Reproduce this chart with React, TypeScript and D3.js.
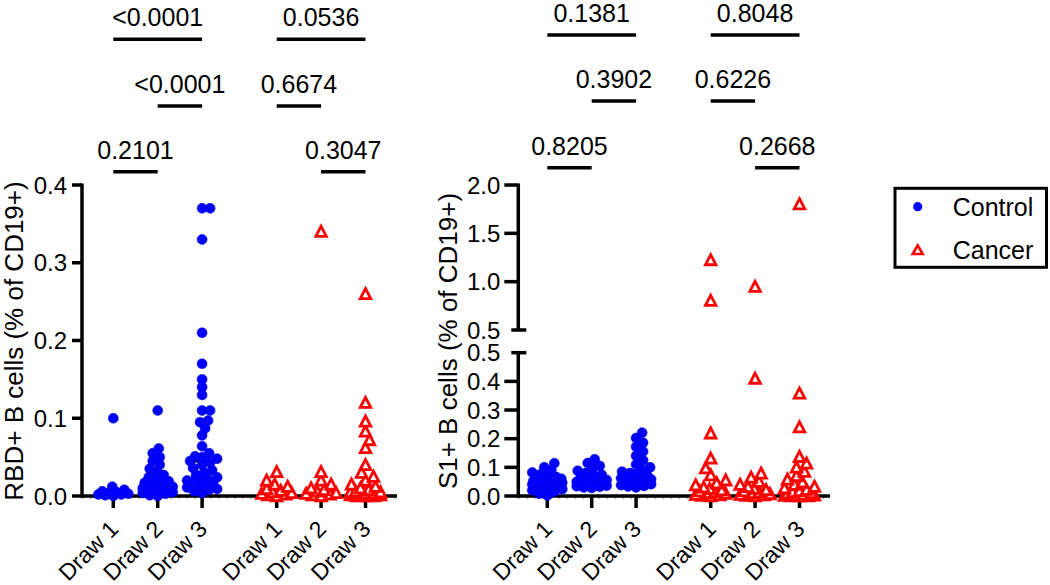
import React from "react";
import * as d3 from "d3";

// ---------- data ----------
const categories = ["Draw 1", "Draw 2", "Draw 3", "Draw 1", "Draw 2", "Draw 3"];
const groupOf = ["Control", "Control", "Control", "Cancer", "Cancer", "Cancer"];
const catPositions = [0, 1, 2, 3.68, 4.68, 5.68];

// RBD+ B cells (% of CD19+)
const rbdControlDraw1 = [0.1, 0.012, 0.008, 0.006, 0.005, 0.004, 0.003, 0.002, 0.002, 0.001, 0.0];
const rbdControlDraw2 = [0.11, 0.061, 0.055, 0.05, 0.045, 0.04, 0.035, 0.031, 0.027, 0.024, 0.021, 0.019, 0.017, 0.016, 0.014, 0.012, 0.011, 0.01, 0.009, 0.008, 0.007, 0.006, 0.005, 0.004, 0.003, 0.001, 0.0];
const rbdControlDraw3 = [0.37, 0.37, 0.33, 0.21, 0.17, 0.15, 0.14, 0.13, 0.11, 0.11, 0.097, 0.095, 0.087, 0.078, 0.064, 0.055, 0.051, 0.05, 0.048, 0.045, 0.043, 0.04, 0.036, 0.033, 0.03, 0.027, 0.024, 0.021, 0.02, 0.02, 0.019, 0.017, 0.015, 0.013, 0.011, 0.009, 0.008, 0.006, 0.004];
const rbdCancerDraw1 = [0.031, 0.02, 0.015, 0.012, 0.009, 0.007, 0.005, 0.004, 0.003, 0.002, 0.001, 0.0];
const rbdCancerDraw2 = [0.34, 0.031, 0.02, 0.015, 0.01, 0.008, 0.006, 0.004, 0.003, 0.002, 0.001, 0.0];
const rbdCancerDraw3 = [0.26, 0.12, 0.096, 0.083, 0.072, 0.062, 0.04, 0.03, 0.025, 0.02, 0.015, 0.012, 0.01, 0.008, 0.006, 0.005, 0.005, 0.004, 0.004, 0.003, 0.003, 0.002, 0.002, 0.001, 0.001, 0.001, 0.0, 0.0, 0.0];

// S1+ B cells (% of CD19+)
const s1ControlDraw1 = [0.114, 0.1, 0.09, 0.082, 0.075, 0.07, 0.066, 0.062, 0.06, 0.058, 0.056, 0.054, 0.052, 0.05, 0.049, 0.048, 0.046, 0.044, 0.042, 0.04, 0.038, 0.035, 0.032, 0.028, 0.024, 0.02, 0.015, 0.008, 0.002];
const s1ControlDraw2 = [0.128, 0.115, 0.105, 0.095, 0.088, 0.08, 0.074, 0.068, 0.063, 0.059, 0.056, 0.053, 0.05, 0.048, 0.046, 0.044, 0.042, 0.04, 0.038, 0.036, 0.034, 0.032, 0.03, 0.028];
const s1ControlDraw3 = [0.221, 0.202, 0.186, 0.172, 0.155, 0.14, 0.125, 0.11, 0.1, 0.091, 0.085, 0.08, 0.076, 0.072, 0.066, 0.064, 0.062, 0.06, 0.058, 0.056, 0.053, 0.05, 0.047, 0.044, 0.041, 0.038, 0.035, 0.033, 0.03];
const s1CancerDraw1 = [1.224, 0.803, 0.219, 0.131, 0.097, 0.073, 0.055, 0.045, 0.038, 0.03, 0.025, 0.02, 0.017, 0.014, 0.01, 0.008, 0.005, 0.003, 0.001, 0.0];
const s1CancerDraw2 = [0.948, 0.41, 0.079, 0.065, 0.05, 0.04, 0.032, 0.026, 0.021, 0.017, 0.013, 0.01, 0.007, 0.005, 0.003, 0.001, 0.0];
const s1CancerDraw3 = [1.803, 0.358, 0.24, 0.137, 0.114, 0.1, 0.085, 0.07, 0.058, 0.048, 0.04, 0.033, 0.027, 0.022, 0.018, 0.014, 0.011, 0.008, 0.006, 0.004, 0.002, 0.001, 0.0, 0.0, 0.0];

const rbdSeries = [rbdControlDraw1, rbdControlDraw2, rbdControlDraw3, rbdCancerDraw1, rbdCancerDraw2, rbdCancerDraw3];
const s1Series = [s1ControlDraw1, s1ControlDraw2, s1ControlDraw3, s1CancerDraw1, s1CancerDraw2, s1CancerDraw3];

const rbdTicks = [0, 0.1, 0.2, 0.3, 0.4];
const s1LowerTicks = [0, 0.1, 0.2, 0.3, 0.4, 0.5];
const s1UpperTicks = [0.5, 1.0, 1.5, 2.0];

const rbdComparisons = [
  { a: 0, b: 2, p: "<0.0001", row: 0 },
  { a: 3, b: 5, p: "0.0536", row: 0 },
  { a: 1, b: 2, p: "<0.0001", row: 1 },
  { a: 3, b: 4, p: "0.6674", row: 1 },
  { a: 0, b: 1, p: "0.2101", row: 2 },
  { a: 4, b: 5, p: "0.3047", row: 2 },
];
const s1Comparisons = [
  { a: 0, b: 2, p: "0.1381", row: 0 },
  { a: 3, b: 5, p: "0.8048", row: 0 },
  { a: 1, b: 2, p: "0.3902", row: 1 },
  { a: 3, b: 4, p: "0.6226", row: 1 },
  { a: 0, b: 1, p: "0.8205", row: 2 },
  { a: 4, b: 5, p: "0.2668", row: 2 },
];

const legendItems = ["Control", "Cancer"];

// ---------- style ----------
const FONT = "'Liberation Sans', Arial, Helvetica, sans-serif";
const BLUE = "#0000ff";
const RED = "#ff0000";
const FS_P = 25;
const FS_TICK = 24;
const FS_XLAB = 23;
const FS_TITLE = 26;
const FS_LEG = 25;

function triPath(w: number, h: number) {
  return `M0,${-h / 2 - 0.6}L${w / 2},${h / 2}L${-w / 2},${h / 2}Z`;
}

function swarm(values: number[], cx: number, yFn: (v: number) => number, dist: number, maxOff: number) {
  const sorted = [...values].sort((a, b) => a - b);
  const placed: { x: number; y: number; v: number }[] = [];
  sorted.forEach((v, idx) => {
    const y = yFn(v);
    let chosen = 0;
    let bestD = -1;
    const sign = idx % 2 === 0 ? 1 : -1;
    outer: for (let k = 0; k <= maxOff; k++) {
      const offs = k === 0 ? [0] : [sign * k, -sign * k];
      for (const off of offs) {
        let md = Infinity;
        for (const p of placed) {
          const d = Math.hypot(p.x - (cx + off), p.y - y);
          if (d < md) md = d;
        }
        if (md >= dist) {
          chosen = off;
          bestD = md;
          break outer;
        }
        if (md > bestD) {
          bestD = md;
          chosen = off;
        }
      }
    }
    placed.push({ x: cx + chosen, y, v });
  });
  return placed;
}

type PanelCfg = {
  axisX: number;
  x0: number;
  xEnd: number;
  y0: number;
  series: number[][];
  comps: { a: number; b: number; p: string; row: number }[];
  rowY: number[];
  yFn: (v: number) => number;
};

const STEP = 44.4;

function Points({ cfg }: { cfg: PanelCfg }) {
  const xs = d3.scaleLinear().domain([0, 1]).range([cfg.x0, cfg.x0 + STEP]);
  return (
    <g>
      {cfg.series.map((vals, i) => {
        const m = d3.median(vals) as number;
        const cx = xs(catPositions[i]);
        return (
          <line key={"m" + i} x1={cx - 14.5} x2={cx + 14.5} y1={cfg.yFn(m)} y2={cfg.yFn(m)} stroke="#000" strokeWidth={3} />
        );
      })}
      {cfg.series.map((vals, i) => {
        const cx = xs(catPositions[i]);
        const isCtrl = groupOf[i] === "Control";
        const pts = swarm(vals, cx, cfg.yFn, isCtrl ? 7.5 : 8.5, 15);
        return (
          <g key={"s" + i}>
            {pts.map((p, j) =>
              isCtrl ? (
                <circle key={j} cx={p.x} cy={p.y} r={5} fill={BLUE} stroke="#0000cc" strokeWidth={0.5} />
              ) : (
                <path key={j} d={triPath(10.5, 9.5)} transform={`translate(${p.x},${p.y})`} fill="#fff" stroke={RED} strokeWidth={2.8} strokeLinejoin="miter" />
              )
            )}
          </g>
        );
      })}
    </g>
  );
}

function XAxis({ cfg }: { cfg: PanelCfg }) {
  const xs = d3.scaleLinear().domain([0, 1]).range([cfg.x0, cfg.x0 + STEP]);
  return (
    <g>
      <line x1={cfg.axisX} x2={cfg.xEnd} y1={cfg.y0 + 2} y2={cfg.y0 + 2} stroke="#777" strokeWidth={1} strokeDasharray="2 6" />
      <line x1={cfg.axisX - 1.5} x2={cfg.xEnd} y1={cfg.y0} y2={cfg.y0} stroke="#000" strokeWidth={3.5} />
      {categories.map((c, i) => {
        const cx = xs(catPositions[i]);
        return (
          <g key={i}>
            <line x1={cx} x2={cx} y1={cfg.y0} y2={cfg.y0 + 12} stroke="#000" strokeWidth={3.5} />
            <text
              transform={`translate(${cx - 5},${cfg.y0 + 23})rotate(-45)`}
              textAnchor="end"
              dy="0.71em"
              fontFamily={FONT}
              fontSize={FS_XLAB}
              fill="#000"
            >
              {c}
            </text>
          </g>
        );
      })}
    </g>
  );
}

function Brackets({ cfg }: { cfg: PanelCfg }) {
  const xs = d3.scaleLinear().domain([0, 1]).range([cfg.x0, cfg.x0 + STEP]);
  return (
    <g>
      {cfg.comps.map((c, i) => {
        const xa = xs(catPositions[c.a]);
        const xb = xs(catPositions[c.b]);
        const y = cfg.rowY[c.row];
        return (
          <g key={i}>
            <line x1={xa} x2={xb} y1={y} y2={y} stroke="#000" strokeWidth={3.5} />
            <text x={(xa + xb) / 2} y={y - 13} textAnchor="middle" fontFamily={FONT} fontSize={FS_P} fill="#000">
              {c.p}
            </text>
          </g>
        );
      })}
    </g>
  );
}

export default function App() {
  const fmt = d3.format(".1f");

  const rbdY = d3.scaleLinear().domain([0, 0.4]).range([496, 185]);
  const s1Lower = d3.scaleLinear().domain([0, 0.5]).range([496, 352.7]);
  const s1Upper = d3.scaleLinear().domain([0.5, 2.0]).range([330, 185]);
  const s1Y = (v: number) => (v <= 0.5 ? s1Lower(v) : s1Upper(v));

  const left: PanelCfg = {
    axisX: 82,
    x0: 113.3,
    xEnd: 397,
    y0: 496,
    series: rbdSeries,
    comps: rbdComparisons,
    rowY: [39.3, 106, 171.7],
    yFn: (v) => rbdY(v),
  };
  const right: PanelCfg = {
    axisX: 518.3,
    x0: 547.3,
    xEnd: 830,
    y0: 496,
    series: s1Series,
    comps: s1Comparisons,
    rowY: [35, 101, 167.7],
    yFn: s1Y,
  };

  return (
    <svg width={1050} height={585} style={{ position: "absolute", left: 0, top: 0, background: "#fff" }} xmlns="http://www.w3.org/2000/svg">
      <rect x={0} y={0} width={1050} height={585} fill="#fff" />

      {/* ---------- left panel ---------- */}
      <g>
        <line x1={left.axisX} x2={left.axisX} y1={185 - 1.5} y2={497.5} stroke="#000" strokeWidth={3.5} />
        {rbdTicks.map((t) => (
          <g key={t}>
            <line x1={left.axisX - 10} x2={left.axisX} y1={rbdY(t)} y2={rbdY(t)} stroke="#000" strokeWidth={3.5} />
            <text x={left.axisX - 15} y={rbdY(t)} dy="0.36em" textAnchor="end" fontFamily={FONT} fontSize={FS_TICK} fill="#000">
              {fmt(t)}
            </text>
          </g>
        ))}
        <text transform={`translate(23,341)rotate(-90)`} textAnchor="middle" fontFamily={FONT} fontSize={FS_TITLE} fill="#000">
          RBD+ B cells (% of CD19+)
        </text>
        <XAxis cfg={left} />
        <Points cfg={left} />
        <Brackets cfg={left} />
      </g>

      {/* ---------- right panel ---------- */}
      <g>
        <line x1={right.axisX} x2={right.axisX} y1={s1Lower(0.5)} y2={497.5} stroke="#000" strokeWidth={3.5} />
        <line x1={right.axisX} x2={right.axisX} y1={s1Upper(2.0) - 1.5} y2={s1Upper(0.5)} stroke="#000" strokeWidth={3.5} />
        {s1LowerTicks.map((t) => (
          <g key={"l" + t}>
            <line
              x1={t === 0.5 ? right.axisX - 7 : right.axisX - 14}
              x2={t === 0.5 ? right.axisX + 8 : right.axisX}
              y1={s1Lower(t)}
              y2={s1Lower(t)}
              stroke="#000"
              strokeWidth={3.5}
            />
            <text x={right.axisX - 18} y={s1Lower(t)} dy="0.36em" textAnchor="end" fontFamily={FONT} fontSize={FS_TICK} fill="#000">
              {fmt(t)}
            </text>
          </g>
        ))}
        {s1UpperTicks.map((t) => (
          <g key={"u" + t}>
            <line
              x1={t === 0.5 ? right.axisX - 7 : right.axisX - 14}
              x2={t === 0.5 ? right.axisX + 8 : right.axisX}
              y1={s1Upper(t)}
              y2={s1Upper(t)}
              stroke="#000"
              strokeWidth={3.5}
            />
            <text x={right.axisX - 18} y={s1Upper(t)} dy="0.36em" textAnchor="end" fontFamily={FONT} fontSize={FS_TICK} fill="#000">
              {fmt(t)}
            </text>
          </g>
        ))}
        <text transform={`translate(457,341)rotate(-90)`} textAnchor="middle" fontFamily={FONT} fontSize={FS_TITLE} fill="#000">
          S1+ B cells (% of CD19+)
        </text>
        <XAxis cfg={right} />
        <Points cfg={right} />
        <Brackets cfg={right} />
      </g>

      {/* ---------- legend ---------- */}
      <g>
        <rect x={895} y={188.3} width={151.5} height={79} fill="#fff" stroke="#000" strokeWidth={3} />
        {legendItems.map((name, i) => {
          const cy = i === 0 ? 206.7 : 250;
          return (
            <g key={name}>
              {name === "Control" ? (
                <circle cx={917.7} cy={cy} r={4.6} fill={BLUE} />
              ) : (
                <path d={triPath(10, 8)} transform={`translate(917.7,${cy})`} fill="#fff" stroke={RED} strokeWidth={2.6} />
              )}
              <text x={952.7} y={cy} dy="0.36em" fontFamily={FONT} fontSize={FS_LEG} fill="#000">
                {name}
              </text>
            </g>
          );
        })}
      </g>
    </svg>
  );
}
